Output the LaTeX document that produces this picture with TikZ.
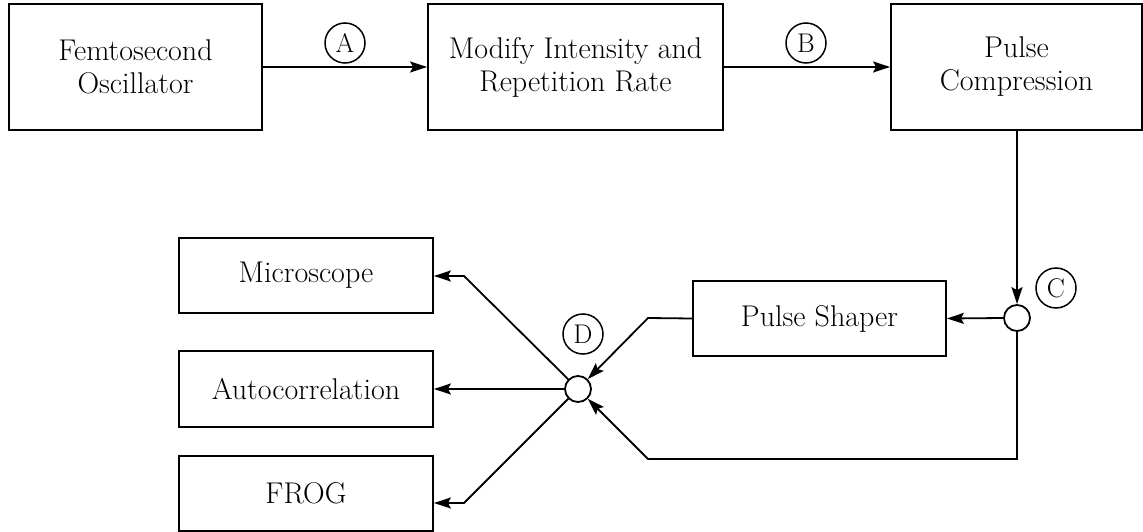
\documentclass[tikz,border=0pt]{standalone}
\usepackage{fontspec}
\usetikzlibrary{arrows.meta, positioning}

\begin{document}
\begin{tikzpicture}[x=1pt, y=-1pt, line width=1.8pt,
    blk/.style={draw, rectangle, align=center, inner sep=0pt, font=\fontsize{30}{33}\selectfont},
    lbl/.style={draw, circle, line width=1.5pt, minimum size=40pt, inner sep=0pt, font=\fontsize{27}{30}\selectfont},
    junc/.style={draw, circle, minimum size=26pt, inner sep=0pt},
    arr/.style={-{Stealth[length=17pt, width=11pt, inset=3pt]}}]
    \useasboundingbox (0,0) rectangle (1143,532);
    \node[blk, minimum width=253pt, minimum height=126pt] (osc) at (135.5,67) {Femtosecond\\Oscillator};
    \node[blk, minimum width=295pt, minimum height=126pt] (modify) at (575.5,67) {Modify Intensity and\\Repetition Rate};
    \node[blk, minimum width=251pt, minimum height=126pt] (compress) at (1016.5,67) {Pulse\\Compression};
    \node[blk, minimum width=253pt, minimum height=75pt] (shaper) at (819.5,318.5) {Pulse Shaper};
    \node[blk, minimum width=254pt, minimum height=75pt] (micro) at (306,275.5) {Microscope};
    \node[blk, minimum width=254pt, minimum height=76pt] (auto) at (306,389) {Autocorrelation};
    \node[blk, minimum width=254pt, minimum height=75pt] (frog) at (306,493.5) {FROG};
    \node[junc] (jC) at (1017,318) {};
    \node[junc] (jD) at (578,389) {};
    \node[lbl] (labA) at (345,43) {A};
    \node[lbl] (labB) at (806,43) {B};
    \node[lbl] (labC) at (1056,288) {C};
    \node[lbl] (labD) at (583,334) {D};
    \coordinate (kS) at (648,318);
    \coordinate (kB) at (648,459);
    \coordinate (kM) at (464,276);
    \coordinate (kF) at (464,503);
    \draw[arr] (osc.east) -- (modify.west);
    \draw[arr] (modify.east) -- (compress.west);
    \draw[arr] (compress.south -| jC) -- (jC.north);
    \draw[arr] (jC.west) -- (shaper.east);
    \draw[arr] (shaper.west) -- (kS) -- (jD);
    \draw[arr] (jC.south) -- (jC |- kB) -- (kB) -- (jD);
    \draw[arr] (jD) -- (kM) -- (micro.east |- kM);
    \draw[arr] (jD) -- (auto.east);
    \draw[arr] (jD) -- (kF) -- (frog.east |- kF);
\end{tikzpicture}
\end{document}
